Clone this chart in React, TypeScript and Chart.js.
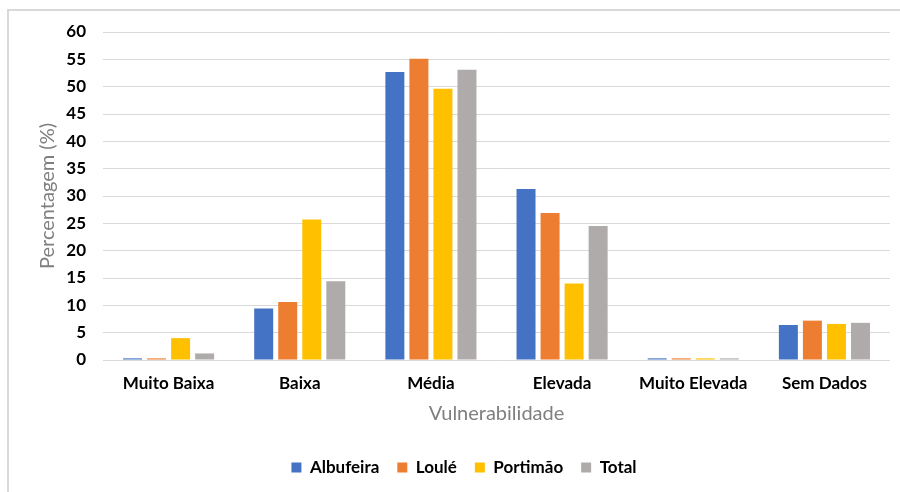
import React, { useEffect, useRef } from "react";
import { Chart, registerables } from "chart.js";

Chart.register(...registerables);

const categories = ["Muito Baixa", "Baixa", "Média", "Elevada", "Muito Elevada", "Sem Dados"];
const albufeira = [0.3, 9.4, 52.7, 31.3, 0.3, 6.4];
const loule = [0.3, 10.6, 55.1, 26.9, 0.3, 7.2];
const portimao = [4.0, 25.7, 49.6, 14.0, 0.3, 6.6];
const total = [1.2, 14.4, 53.1, 24.5, 0.3, 6.8];
const seriesNames = ["Albufeira", "Loulé", "Portimão", "Total"];
const seriesColors = ["#4472C4", "#ED7D31", "#FFC000", "#AFABAB"];
const yMin = 0;
const yMax = 60;
const yStep = 5;
const yTitle = "Percentagem (%)";
const xTitle = "Vulnerabilidade";

export default function App() {
  const ref = useRef<HTMLCanvasElement | null>(null);

  useEffect(() => {
    if (!ref.current) return;
    const values = [albufeira, loule, portimao, total];
    const chart = new Chart(ref.current, {
      type: "bar",
      data: {
        labels: categories,
        datasets: seriesNames.map((name, i) => ({
          label: name,
          data: values[i],
          backgroundColor: seriesColors[i],
          borderWidth: 0,
          categoryPercentage: 0.733,
          barPercentage: 0.79,
        })),
      },
      options: {
        responsive: false,
        animation: false,
        devicePixelRatio: 1,
        layout: { padding: { top: 32, left: 38, right: 10, bottom: 6 } },
        font: { family: "Lato" },
        plugins: {
          tooltip: { enabled: false },
          legend: {
            position: "bottom",
            labels: {
              boxWidth: 10,
              boxHeight: 10,
              padding: 18,
              color: "#000000",
              font: { family: "Lato", size: 17, weight: "bold" },
            },
          },
        },
        scales: {
          x: {
            grid: { display: false },
            border: { display: false },
            ticks: {
              color: "#000000",
              padding: 5,
              font: { family: "Lato", size: 17, weight: "bold" },
              maxRotation: 0,
            },
            title: {
              display: true,
              text: xTitle,
              color: "#7f7f7f",
              font: { family: "Lato", size: 20 },
              padding: { top: 0, bottom: 15 },
            },
            afterFit: (s: any) => {
              s.height = 81;
            },
          },
          y: {
            min: yMin,
            max: yMax,
            grid: { color: "#d9d9d9", lineWidth: 1, drawTicks: false },
            border: { display: false },
            ticks: {
              stepSize: yStep,
              color: "#000000",
              padding: 17,
              font: { family: "Lato", size: 17, weight: "bold" },
            },
            title: {
              display: true,
              text: yTitle,
              color: "#7f7f7f",
              font: { family: "Lato", size: 20, lineHeight: 1 },
              padding: { top: 0, bottom: 0 },
            },
            afterFit: (s: any) => {
              s.width = 65;
            },
          },
        },
      },
    });
    return () => chart.destroy();
  }, []);

  return (
    <div style={{ position: "fixed", left: 0, top: 0, width: 900, height: 492, background: "#ffffff" }}>
      <div
        style={{
          position: "absolute",
          left: 7,
          top: 9,
          width: 900,
          height: 500,
          borderTop: "2px solid #d9d9d9",
          borderLeft: "2px solid #d9d9d9",
        }}
      />
      <canvas ref={ref} width={900} height={492} style={{ position: "absolute", left: 0, top: 0 }} />
    </div>
  );
}
